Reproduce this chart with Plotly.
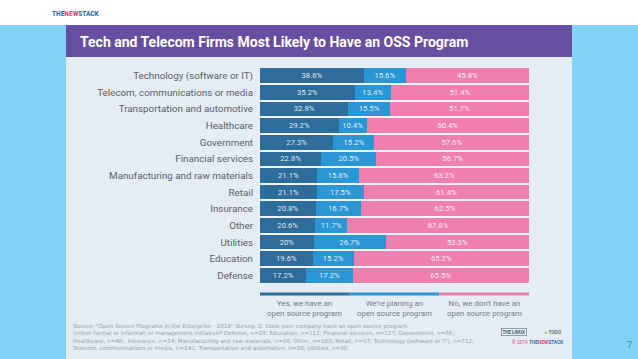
import plotly.graph_objects as go

W, H = 638, 359

categories = [
    "Technology (software or IT)",
    "Telecom, communications or media",
    "Transportation and automotive",
    "Healthcare",
    "Government",
    "Financial services",
    "Manufacturing and raw materials",
    "Retail",
    "Insurance",
    "Other",
    "Utilities",
    "Education",
    "Defense",
]
have_program = [38.6, 35.2, 32.8, 29.2, 27.3, 22.8, 21.1, 21.1, 20.8, 20.6, 20, 19.6, 17.2]
planning_program = [15.6, 13.4, 15.5, 10.4, 15.2, 20.5, 15.8, 17.5, 16.7, 11.7, 26.7, 15.2, 17.2]
no_program = [45.8, 51.4, 51.7, 60.4, 57.6, 56.7, 63.2, 61.4, 62.5, 67.8, 53.3, 65.2, 65.5]

series_names = [
    "Yes, we have an<br>open source program",
    "We're planing an<br>open source program",
    "No, we don't have an<br>open source program",
]
series_values = [have_program, planning_program, no_program]
series_colors = ["#2e6d9b", "#2b96d4", "#ef7fae"]

title = "Tech and Telecom Firms Most Likely to Have an OSS Program"
source_lines = [
    "Source: \"Open Source Programs in the Enterprise - 2019\" Survey. Q. Does your company have an open source program",
    "(either formal or informal) or management initiative? Defense, n=29; Education, n=112; Financial services, n=127; Government, n=66;",
    "Healthcare, n=48;  Insurance, n=24; Manufacturing and raw materials, n=38; Other, n=180; Retail, n=57; Technology (software or IT), n=712;",
    "Telecom, communications or media, n=142; Transportation and automotive, n=58; Utilities, n=30.",
]


def px(x):
    return x / W


def py(y):
    return 1 - y / H


fig = go.Figure()
for name, vals, col in zip(series_names, series_values, series_colors):
    fig.add_trace(go.Bar(
        y=categories, x=vals, orientation="h", name=name,
        marker=dict(color=col, line=dict(width=0)),
        text=[f"{v:g}%" for v in vals],
        textposition="inside", insidetextanchor="middle",
        textfont=dict(family="Roboto", size=8, color="rgba(255,255,255,0.88)"),
        hoverinfo="skip",
    ))

shapes = [
    # white top strip
    dict(type="rect", xref="paper", yref="paper", x0=0, x1=1, y0=py(25), y1=1,
         fillcolor="white", line=dict(width=0), layer="below"),
    # chart panel
    dict(type="rect", xref="paper", yref="paper", x0=px(66), x1=px(572), y0=0, y1=py(57),
         fillcolor="#e5ecf3", line=dict(width=0), layer="below"),
    # purple title bar
    dict(type="rect", xref="paper", yref="paper", x0=px(66), x1=px(572), y0=py(57), y1=py(25),
         fillcolor="#684ea2", line=dict(width=0), layer="below"),
    # lighter strip behind bars
    dict(type="rect", xref="paper", yref="paper", x0=px(260), x1=px(529), y0=py(284), y1=py(67),
         fillcolor="#f1f4f8", line=dict(width=0), layer="below"),
]
# legend colour band
for i, col in enumerate(series_colors):
    shapes.append(dict(type="rect", xref="x", yref="paper",
                       x0=i * 100 / 3, x1=(i + 1) * 100 / 3,
                       y0=py(295.5), y1=py(292.5),
                       fillcolor=col, line=dict(width=0)))

annotations = [
    dict(text="<b>" + title + "</b>", xref="paper", yref="paper", x=px(78), y=py(42),
         xanchor="left", yanchor="middle", showarrow=False,
         font=dict(family="Roboto", size=14, color="white")),
    dict(text="<b><span style='color:#2f6fae'>THE</span><span style='color:#e2457c'>NEW</span>"
              "<span style='color:#2f6fae'>STACK</span></b>",
         xref="paper", yref="paper", x=px(50), y=py(13.5), xanchor="left", yanchor="middle",
         showarrow=False, font=dict(family="Roboto Condensed, Roboto", size=7.5)),
    dict(text="7", xref="paper", yref="paper", x=px(629), y=py(345), xanchor="center",
         yanchor="middle", showarrow=False, font=dict(family="Roboto", size=9, color="#4a7896")),
]
for i, name in enumerate(series_names):
    annotations.append(dict(text=name, xref="x", yref="paper", x=(i + 0.5) * 100 / 3, y=py(297),
                            xanchor="center", yanchor="top", showarrow=False,
                            font=dict(family="Roboto", size=7.9, color="#737c85")))
annotations.append(dict(text="<br>".join(source_lines), xref="paper", yref="paper",
                        x=px(71), y=py(337.5), xanchor="left", yanchor="middle", align="left",
                        showarrow=False, borderpad=0,
                        font=dict(family="DejaVu Sans", size=5.6, color="#9aa3ab")))
# logos (as text)
annotations += [
    dict(text="<b>THE LINUX</b>", xref="paper", yref="paper", x=px(514), y=py(332),
         xanchor="center", yanchor="middle", showarrow=False,
         font=dict(family="Roboto", size=4.5, color="#44546a"), bordercolor="#44546a",
         borderwidth=0.5, borderpad=1),
    dict(text="<b><span style='color:#9ac23c'>●</span> TODO</b>", xref="paper", yref="paper",
         x=px(553), y=py(332), xanchor="center", yanchor="middle", showarrow=False,
         font=dict(family="Roboto", size=5, color="#6c7a86")),
    dict(text="© 2019 <b><span style='color:#2f6fae'>THE</span><span style='color:#e2457c'>NEW</span>"
              "<span style='color:#2f6fae'>STACK</span></b>",
         xref="paper", yref="paper", x=px(538), y=py(342), xanchor="center", yanchor="middle",
         showarrow=False, font=dict(family="Roboto", size=4.8, color="#e2457c")),
]

fig.update_layout(
    width=W, height=H, margin=dict(l=0, r=0, t=0, b=0),
    paper_bgcolor="#82d3f7", plot_bgcolor="rgba(0,0,0,0)",
    barmode="stack", bargap=0.12, showlegend=False,
    shapes=shapes, annotations=annotations,
    xaxis=dict(domain=[px(260), px(529)], range=[0, 100], visible=False, fixedrange=True),
    yaxis=dict(domain=[py(283.8), py(67.2)], autorange="reversed", showgrid=False,
               ticks="outside", ticklen=4, tickcolor="rgba(0,0,0,0)",
               tickfont=dict(family="Roboto", size=9.8, color="#5a5f66"),
               showline=False, zeroline=False, fixedrange=True),
    font=dict(family="Roboto"),
    uniformtext=dict(minsize=7, mode="show"),
)

fig.write_html("out.html", config={"displayModeBar": False},
               post_script="document.body.style.margin='0';document.body.style.overflow='hidden';")
